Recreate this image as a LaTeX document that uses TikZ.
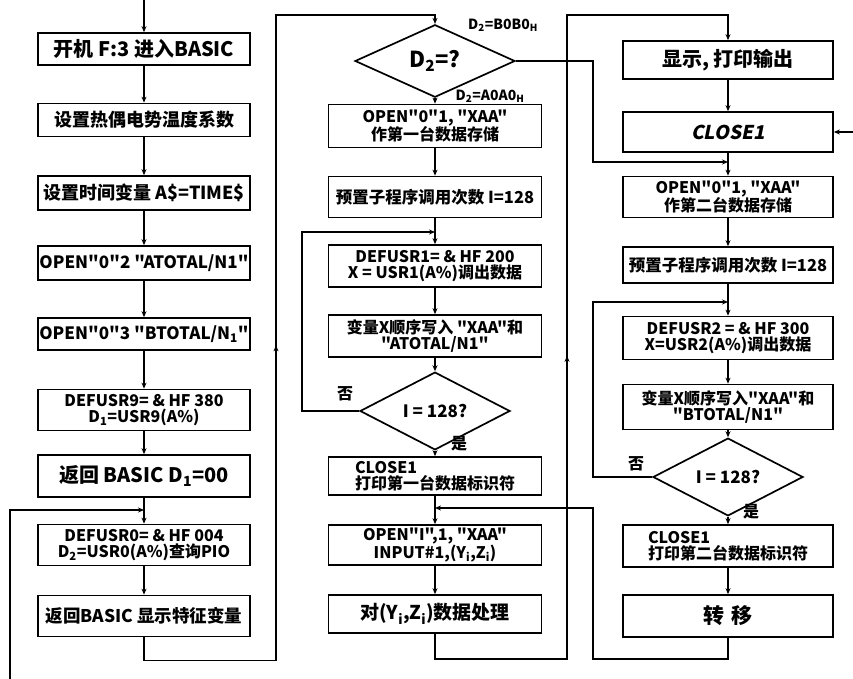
\documentclass[tikz,border=0pt]{standalone}
\usepackage{fontspec}
\newfontfamily\cjk{Noto Sans CJK SC}
\newfontfamily\slantfont[FakeSlant=0.2]{Noto Sans CJK SC}
\usetikzlibrary{shapes.geometric,arrows.meta,decorations.markings}
\newcommand{\fs}[1]{\fontsize{#1}{#1}\selectfont\cjk\bfseries}
\tikzset{
  box/.style={draw, line width=1.7pt, minimum width=212pt, inner sep=1pt, align=center,
    font=\fs{18}},
  lat/.style={font=\fs{17}},
  box2/.style={box, font=\fs{16}},
  dia/.style={draw, diamond, line width=1.7pt, inner sep=0pt, font=\fs{17}},
  conn/.style={line width=1.3pt},
  arr/.style={conn, -{Stealth[length=6pt,width=5pt]}},
  lbl/.style={font=\fs{14}, inner sep=1pt},
  midup/.style={postaction={decorate}, decoration={markings,
    mark=at position #1 with {\arrow{Stealth[length=6pt,width=5pt]}}}}
}
\begin{document}
\begin{tikzpicture}[x=1pt,y=-1pt]
\useasboundingbox[fill=white] (0,0) rectangle (853,679);
% left column
\node[box, font=\fs{20}, minimum height=32pt] (L1) at (144,49) {开机 F:3 进入BASIC};
\node[box, minimum height=33pt] (L2) at (144,120) {设置热偶电势温度系数};
\node[box, minimum height=34pt] (L3) at (144,193) {设置时间变量 A\$=TIME\$};
\node[box, lat, minimum height=34pt] (L4) at (144,263) {OPEN"0"2 "ATOTAL/N1"};
\node[box, lat, minimum height=32pt] (L5) at (144,334) {OPEN"0"3 "BTOTAL/N\textsubscript{1}"};
\node[box2, minimum height=41pt] (L6) at (144,410) {DEFUSR9= \& HF 380\\D\textsubscript{1}=USR9(A\%)};
\node[box, font=\fs{20}, minimum height=42pt] (L7) at (144,476) {返回 BASIC D\textsubscript{1}=00};
\node[box2, minimum height=41pt] (L8) at (144,545) {DEFUSR0= \& HF 004\\D\textsubscript{2}=USR0(A\%)查询PIO};
\node[box, font=\fs{17.5}, minimum height=41pt] (L9) at (144,616) {返回BASIC 显示特征变量};
% middle column
\node[dia, font=\fs{22}, minimum width=160pt, minimum height=48pt] (D1) at (435,61) {D\textsubscript{2}=?};
\node[box2, minimum width=213pt, minimum height=43pt] (M1) at (435,126) {OPEN"0"1, "XAA"\\作第一台数据存储};
\node[box, minimum width=213pt, minimum height=41pt, font=\fs{16.5}] (M2) at (435,197) {预置子程序调用次数 I=128};
\node[box2, minimum width=213pt, minimum height=42pt] (M3) at (435,266) {DEFUSR1= \& HF 200\\X = USR1(A\%)调出数据};
\node[box2, minimum width=213pt, minimum height=42pt] (M4) at (435,336) {变量X顺序写入 "XAA"和\\"ATOTAL/N1"};
\node[dia, minimum width=150pt, minimum height=42pt] (D2) at (435,411) {I = 128?};
\node[box2, minimum width=213pt, minimum height=38pt, align=left] (M5) at (435,476) {CLOSE1\\打印第一台数据标识符};
\node[box2, minimum width=213pt, minimum height=40pt] (M6) at (435,545) {OPEN"I",1, "XAA"\\INPUT\#1,(Y\textsubscript{i},Z\textsubscript{i})};
\node[box, font=\fs{19}, minimum width=213pt, minimum height=38pt] (M7) at (435,614) {对(Y\textsubscript{i},Z\textsubscript{i})数据处理};
% right column
\node[box, font=\fs{20}, minimum width=210pt, minimum height=38pt] (R1) at (728,60) {显示, 打印输出};
\node[box, minimum width=210pt, minimum height=40pt, font=\fontsize{19}{19}\selectfont\slantfont\bfseries] (R2) at (728,132) {CLOSE1};
\node[box2, minimum width=210pt, minimum height=41pt] (R3) at (728,197) {OPEN"0"1, "XAA"\\作第二台数据存储};
\node[box, minimum width=210pt, minimum height=36pt, font=\fs{16.5}] (R4) at (728,265) {预置子程序调用次数 I=128};
\node[box2, minimum width=210pt, minimum height=43pt] (R5) at (728,338) {DEFUSR2 = \& HF 300\\X=USR2(A\%)调出数据};
\node[box2, minimum width=210pt, minimum height=45pt] (R6) at (728,407) {变量X顺序写入"XAA"和\\"BTOTAL/N1"};
\node[dia, minimum width=150pt, minimum height=41pt] (D3) at (728,477) {I = 128?};
\node[box2, minimum width=210pt, minimum height=42pt, align=left] (R7) at (728,546) {CLOSE1\\打印第二台数据标识符};
\node[box, font=\fs{21}, minimum width=210pt, minimum height=42pt] (R8) at (728,616) {转\,\,移};
% labels
\node[lbl] (lb1) at (503,25) {D\textsubscript{2}=B0B0\textsubscript{H}};
\node[lbl] (lb2) at (490,96) {D\textsubscript{2}=A0A0\textsubscript{H}};
\node[lbl, font=\fs{16}] (lb3) at (345,394) {否};
\node[lbl, font=\fs{16}] (lb4) at (459,444) {是};
\node[lbl, font=\fs{16}] (lb5) at (636,464) {否};
\node[lbl, font=\fs{16}] (lb6) at (751,512) {是};
% coordinates
\coordinate (top) at (144,0);
\coordinate (lb) at (10,679);
\coordinate (j1) at (144,510);
\coordinate (j2) at (728,162);
\coordinate (j3) at (435,232);
\coordinate (j4) at (728,302);
\coordinate (j5) at (435,508);
\coordinate (rout) at (853,132);
% left connectors
\draw[arr] (top) -- (L1);
\foreach \a/\b in {L1/L2,L2/L3,L3/L4,L4/L5,L5/L6,L6/L7,L7/L8,L8/L9}{\draw[arr] (\a) -- (\b);}
\draw[arr] (lb) |- (j1);
\draw[arr, midup=470pt] (L9.south) -- ++(0,23) -| (276,15) -| (D1.north);
% middle connectors
\foreach \a/\b in {D1/M1,M1/M2,M2/M3,M3/M4,M4/D2,D2/M5,M5/M6,M6/M7}{\draw[arr] (\a) -- (\b);}
\draw[arr] (D2.west) -| (302,232) -- (j3);
\draw[arr, midup=460pt] (M7.south) -- ++(0,25) -| (567,15) -| (R1.north);
\draw[arr] (D1.east) -| (593,162) -- (j2);
% right connectors
\foreach \a/\b in {R1/R2,R2/R3,R3/R4,R4/R5,R5/R6,R6/D3,D3/R7,R7/R8}{\draw[arr] (\a) -- (\b);}
\draw[arr] (D3.west) -| (593,302) -- (j4);
\draw[arr] (R8.south) -- ++(0,21) -| (593,508) -- (j5);
\draw[arr] (rout) -- (R2.east);
\end{tikzpicture}
\end{document}
